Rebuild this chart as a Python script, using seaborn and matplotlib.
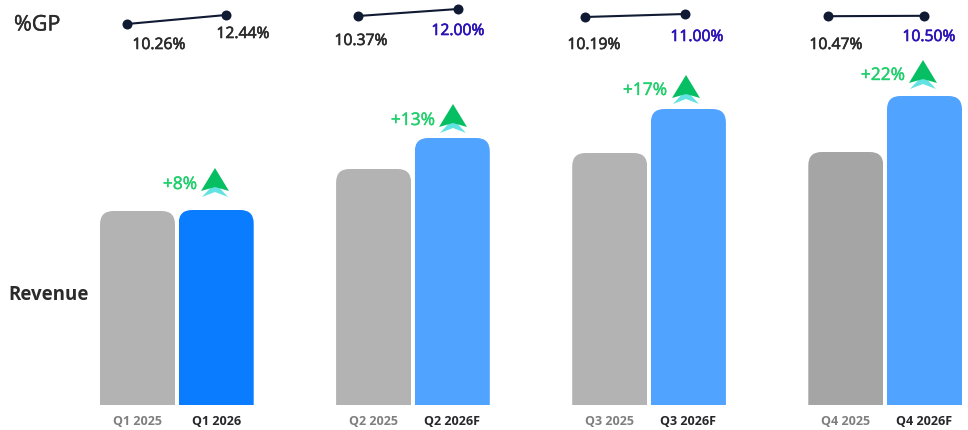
import matplotlib
matplotlib.use('Agg')
import matplotlib.pyplot as plt
from matplotlib.patches import FancyBboxPatch, Rectangle, Polygon
import matplotlib.patheffects as pe
import seaborn as sns
import pandas as pd

sns.set_style('white')
plt.rcParams['font.family'] = ['Open Sans', 'Noto Sans', 'DejaVu Sans']

W, H = 968, 430

# blank slots keep the quarters apart
slots = ['Q1 2025', 'Q1 2026', ' ', 'Q2 2025', 'Q2 2026F', '  ',
         'Q3 2025', 'Q3 2026F', '   ', 'Q4 2025', 'Q4 2026F']
quarters = ['Q1 2025', 'Q1 2026', 'Q2 2025', 'Q2 2026F',
            'Q3 2025', 'Q3 2026F', 'Q4 2025', 'Q4 2026F']
revenue = [194, 195, 236, 267, 252, 296, 253, 309]
bar_colors = ['#b3b3b3', '#0a7cff', '#b3b3b3', '#50a3ff',
              '#b3b3b3', '#50a3ff', '#a5a5a5', '#50a3ff']

gp_start = [10.26, 10.37, 10.19, 10.47]
gp_end = [12.44, 12.00, 11.00, 10.50]
gp_start_labels = ['10.26%', '10.37%', '10.19%', '10.47%']
gp_end_labels = ['12.44%', '12.00%', '11.00%', '10.50%']
growth_labels = ['+8%', '+13%', '+17%', '+22%']

df = pd.DataFrame({'quarter': quarters, 'revenue': revenue})

fig = plt.figure(figsize=(W / 100, H / 100), dpi=100)


def thicken(t, w=0.45):
    # faux medium weight
    t.set_path_effects([pe.withStroke(linewidth=w, foreground=t.get_color())])


# bars, one y unit is one pixel
ax = fig.add_axes([0, 25 / H, 1, 405 / H])
sns.barplot(data=df, x='quarter', y='revenue', order=slots, hue='quarter',
            palette=dict(zip(quarters, bar_colors)), width=0.953, saturation=1,
            legend=False, ax=ax)
step = 78.7
ax.set_xlim(-137.5 / step, (W - 137.5) / step)
ax.set_ylim(0, 405)
for p in list(ax.patches):
    x, w, h, c = p.get_x(), p.get_width(), p.get_height(), p.get_facecolor()
    p.set_visible(False)
    clip = Rectangle((x, 0), w, h, transform=ax.transData)
    box = FancyBboxPatch((x, -40), w, h + 40, boxstyle='round,pad=0,rounding_size=0.17',
                         mutation_aspect=step, facecolor=c, edgecolor='none')
    ax.add_patch(box)
    box.set_clip_path(clip)

ax.set_xticks(range(len(slots)))
ax.set_xticklabels([s.strip() for s in slots])
ax.tick_params(axis='x', length=0, pad=7)
for t in ax.get_xticklabels():
    new = '2026' in t.get_text()
    t.set_fontsize(9)
    t.set_fontweight('bold')
    t.set_color('#26262b' if new else '#7f7f7f')
ax.set_xlabel('')
ax.set_ylabel('')
ax.set_yticks([])
sns.despine(ax=ax, left=True, bottom=True)
ax.patch.set_alpha(0)

# %GP sparklines, each one has its own scale
spark_boxes = [(127, 226, 24, 15), (358, 458, 16, 9), (585, 685, 17, 14), (828, 924, 16.2, 15.8)]
for a, b, (x0, x1, y0, y1) in zip(gp_start, gp_end, spark_boxes):
    sp = fig.add_axes([x0 / W, 1 - y0 / H, (x1 - x0) / W, (y0 - y1) / H])
    sns.lineplot(x=[0, 1], y=[a, b], ax=sp, color='#101a33', linewidth=1.5, marker='o',
                 markersize=7.2, markeredgewidth=0, clip_on=False, errorbar=None)
    sp.set_xlim(0, 1)
    sp.set_ylim(a, b)
    sp.axis('off')

# overlay in pixel coordinates for labels and arrows
ov = fig.add_axes([0, 0, 1, 1])
ov.set_xlim(0, W)
ov.set_ylim(H, 0)
ov.axis('off')

thicken(ov.text(14, 25, '%GP', fontsize=15.5, color='#2b2b2b', va='center'), 0.3)
ov.text(8, 295, 'Revenue', fontsize=13.5, color='#2b2b2b', fontweight='bold', va='center')

start_pos = [(159, 45), (361, 41), (594, 45), (836, 45)]
end_pos = [(243, 34), (458, 31), (697, 37), (929, 37)]
end_colors = ['#2b2b2b', '#2a12b5', '#2a12b5', '#2a12b5']
for s, pos in zip(gp_start_labels, start_pos):
    thicken(ov.text(*pos, s, fontsize=11.3, color='#2b2b2b', ha='center', va='center'))
for s, pos, c in zip(gp_end_labels, end_pos, end_colors):
    thicken(ov.text(*pos, s, fontsize=11.3, color=c, ha='center', va='center'))

arrow_tips = [(215, 168), (453, 104), (686, 75), (923, 60)]
growth_pos = [(180, 185), (413, 121), (645, 91), (883, 76)]
for (ax_, ay), s, pos in zip(arrow_tips, growth_labels, growth_pos):
    ov.add_patch(Polygon([(ax_ - 13, ay + 29), (ax_, ay + 15), (ax_ + 13, ay + 29), (ax_, ay + 24)],
                         facecolor='#63e2e2', edgecolor='none'))
    ov.add_patch(Polygon([(ax_, ay), (ax_ + 14, ay + 23), (ax_, ay + 19), (ax_ - 14, ay + 23)],
                         facecolor='#07bf63', edgecolor='none'))
    thicken(ov.text(*pos, s, fontsize=12.5, color='#1fcf6b', ha='center', va='center'), 0.3)

fig.savefig('out.png', dpi=100, facecolor='white')
